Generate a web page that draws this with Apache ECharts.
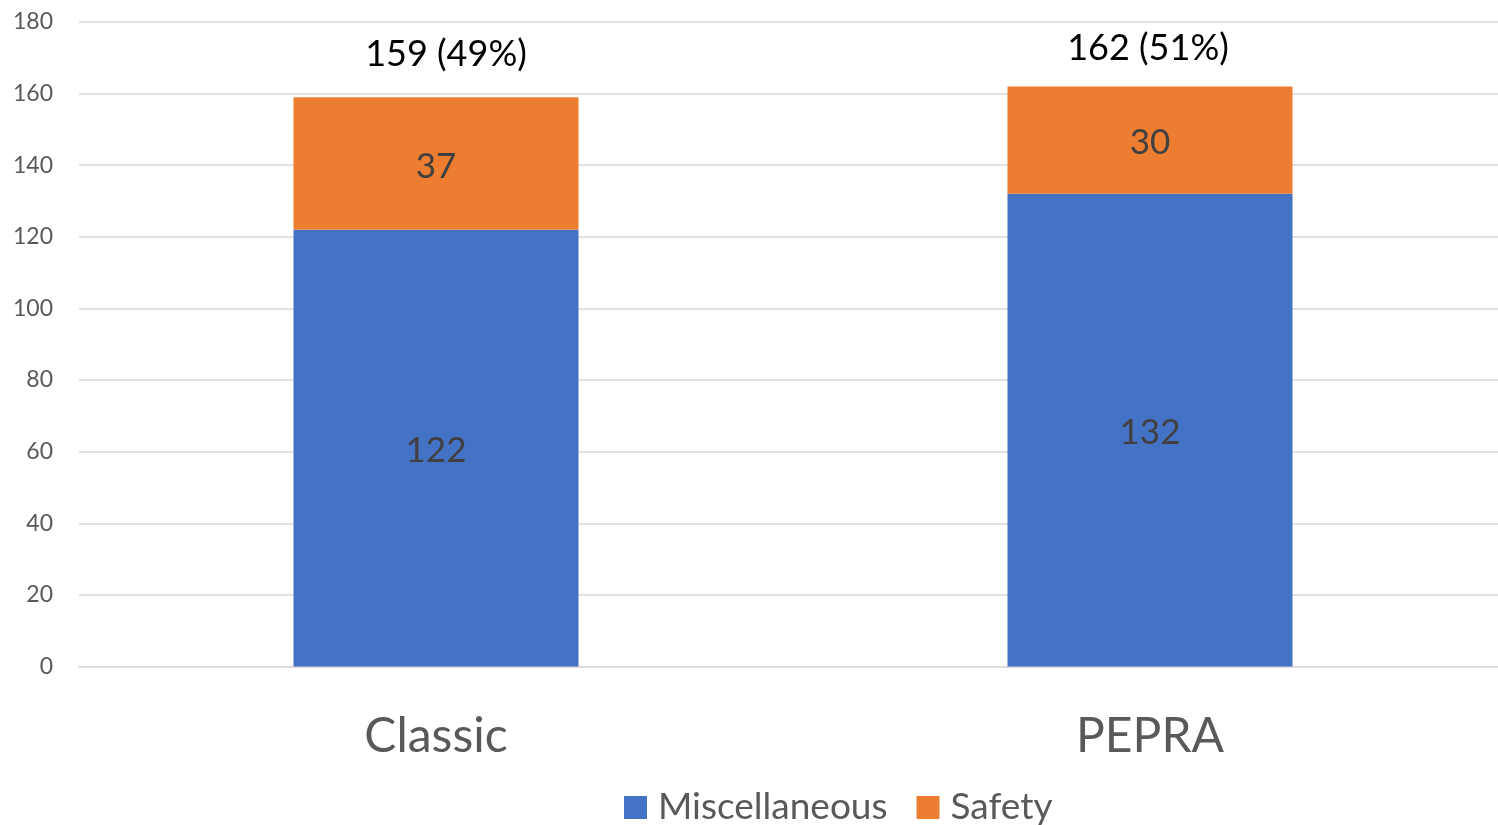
<!DOCTYPE html>
<html>
<head>
<meta charset="utf-8">
<script src="https://cdn.jsdelivr.net/npm/echarts@6/dist/echarts.min.js"></script>
<style>
  html, body { margin: 0; padding: 0; background: #fff; overflow: hidden; }
  #chart { width: 1507px; height: 825px; }
</style>
</head>
<body>
<div id="chart"></div>
<script>
// Plan counts by tier, stacked by category
const categories = ['Classic', 'PEPRA'];
const miscellaneous = [122, 132];
const safety = [37, 30];
const shareLabels = ['49%', '51%'];
const yTicks = [0, 20, 40, 60, 80, 100, 120, 140, 160, 180];

const totals = categories.map((_, i) => miscellaneous[i] + safety[i]);
const FONT = 'Lato, "Open Sans", sans-serif';

const chart = echarts.init(document.getElementById('chart'));
chart.setOption({
  animation: false,
  textStyle: { fontFamily: FONT },
  grid: { left: 79, right: 0, top: 22, bottom: 158.5 },
  legend: {
    bottom: -6,
    left: 619,
    itemWidth: 23,
    itemHeight: 23,
    itemGap: 29,
    icon: 'rect',
    textStyle: { fontSize: 37, color: '#595959', fontFamily: FONT, padding: [0, 0, 0, 6] },
    data: ['Miscellaneous', 'Safety']
  },
  xAxis: {
    type: 'category',
    data: categories,
    axisTick: { show: false },
    axisLine: { lineStyle: { color: '#D9D9D9', width: 1.5 } },
    axisLabel: { fontSize: 48, color: '#595959', margin: 46, fontFamily: FONT }
  },
  yAxis: {
    type: 'value',
    min: yTicks[0],
    max: yTicks[yTicks.length - 1],
    interval: yTicks[1] - yTicks[0],
    axisLine: { show: false },
    axisTick: { show: false },
    splitLine: { lineStyle: { color: '#D9D9D9', width: 1.5 } },
    axisLabel: { fontSize: 23, color: '#595959', margin: 26, fontFamily: FONT }
  },
  series: [
    {
      name: 'Miscellaneous',
      type: 'bar',
      stack: 'total',
      barWidth: 285,
      data: miscellaneous,
      itemStyle: { color: '#4472C4' },
      label: { show: true, position: 'inside', fontSize: 35, color: '#404040', fontFamily: FONT },
      labelLayout: { dy: 3 }
    },
    {
      name: 'Safety',
      type: 'bar',
      stack: 'total',
      barWidth: 285,
      data: safety,
      itemStyle: { color: '#ED7D31' },
      label: { show: true, position: 'inside', fontSize: 35, color: '#404040', fontFamily: FONT },
      labelLayout: { dy: 3 }
    },
    {
      // total with share, placed above each stack
      name: 'Total',
      type: 'bar',
      stack: 'total',
      barWidth: 285,
      silent: true,
      legendHoverLink: false,
      data: totals.map(() => 0),
      itemStyle: { color: 'transparent' },
      label: {
        show: true,
        position: 'top',
        distance: 20,
        fontSize: 36,
        color: '#000000',
        fontFamily: FONT,
        formatter: p => totals[p.dataIndex] + ' (' + shareLabels[p.dataIndex] + ')'
      },
      labelLayout: p => (p.dataIndex === 0 ? { dx: 10, dy: -5 } : { dx: -2 })
    }
  ]
});
</script>
</body>
</html>
